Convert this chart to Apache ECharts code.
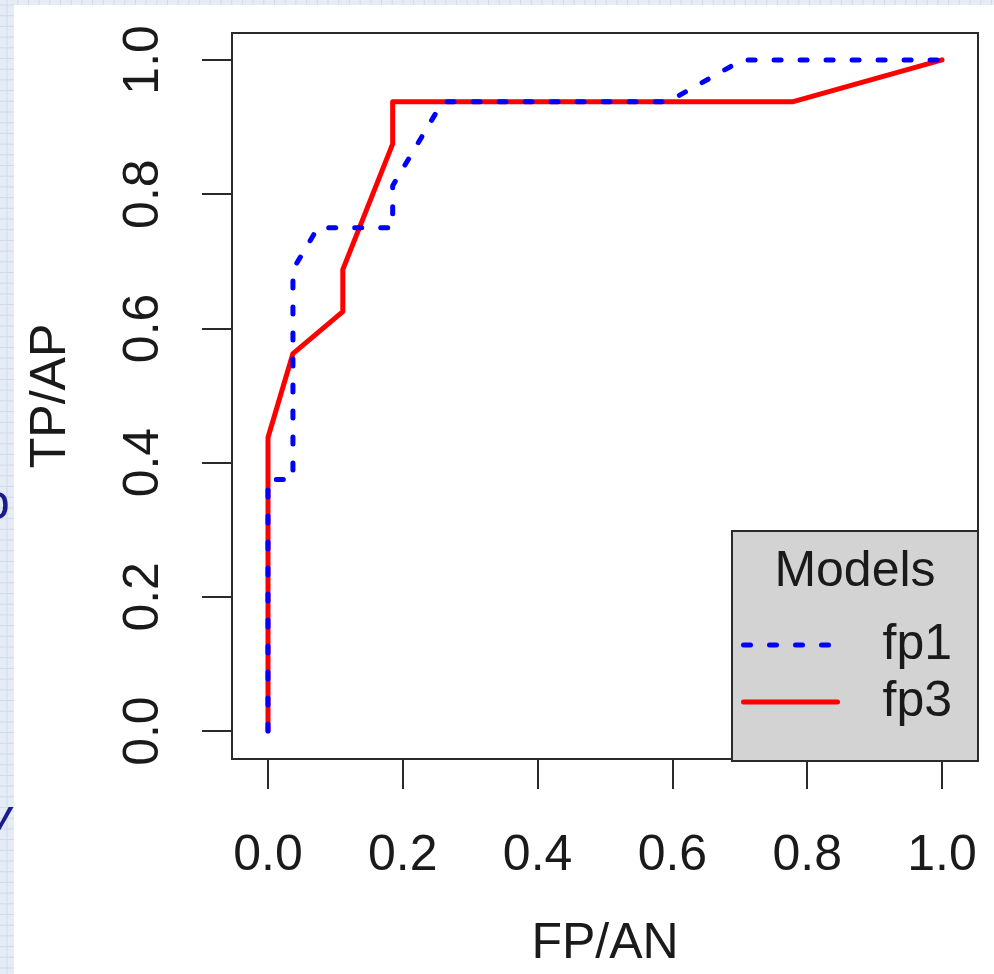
<!DOCTYPE html>
<html><head><meta charset="utf-8">
<script src="https://cdn.jsdelivr.net/npm/echarts@6/dist/echarts.min.js"></script>
<style>html,body{margin:0;padding:0;background:#fff}#c{width:994px;height:974px}</style>
</head><body><div id="c"></div>
<script>
// ---- data ----
const seriesNames = ['fp1', 'fp3'];
const fp1X = [0, 0, 0.037, 0.037, 0.074, 0.185, 0.185, 0.259, 0.593, 0.704, 1.0];
const fp1Y = [0, 0.375, 0.375, 0.6875, 0.75, 0.75, 0.8125, 0.9375, 0.9375, 1.0, 1.0];
const fp3X = [0, 0, 0.037, 0.111, 0.111, 0.185, 0.185, 0.778, 1.0];
const fp3Y = [0, 0.4375, 0.5625, 0.625, 0.6875, 0.875, 0.9375, 0.9375, 1.0];
const xTickValues = [0, 0.2, 0.4, 0.6, 0.8, 1.0];
const yTickValues = [0, 0.2, 0.4, 0.6, 0.8, 1.0];
const xTickLabels = ['0.0', '0.2', '0.4', '0.6', '0.8', '1.0'];
const yTickLabels = ['0.0', '0.2', '0.4', '0.6', '0.8', '1.0'];
const xName = 'FP/AN';
const yName = 'TP/AP';
const legendTitle = 'Models';

// ---- chart ----
const FONT = '"Liberation Sans", Arial, sans-serif';
const pairs = (xs, ys) => xs.map((x, i) => [x, ys[i]]);
const chart = echarts.init(document.getElementById('c'), null, {renderer: 'canvas'});

const BLUE_DASH = {color: '#0000ff', width: 5, type: [7, 19], cap: 'round'};
const RED_SOLID = {color: '#ff0000', width: 5, type: 'solid', cap: 'round', join: 'round'};

const deco = [];
const stripFill = '#e5ecf5', stripLine = '#d0daea';
deco.push({type: 'rect', shape: {x: 0, y: 0, width: 994, height: 5}, style: {fill: stripFill}, z: -10, silent: true});
deco.push({type: 'rect', shape: {x: 0, y: 0, width: 14, height: 974}, style: {fill: stripFill}, z: -10, silent: true});
for (let y = 5; y < 974; y += 10.7) deco.push({type: 'line', shape: {x1: 0, y1: y, x2: 14, y2: y}, style: {stroke: stripLine, lineWidth: 1}, z: -9, silent: true});
for (let x = 7; x < 994; x += 10.7) deco.push({type: 'line', shape: {x1: x, y1: 0, x2: x, y2: x < 14 ? 974 : 5}, style: {stroke: stripLine, lineWidth: 1}, z: -9, silent: true});
deco.push({type: 'text', x: -18, y: 530, style: {text: 'o', font: '50px ' + FONT, fill: '#1c1c8c', textVerticalAlign: 'bottom'}, z: -8, silent: true});
deco.push({type: 'text', x: -14, y: 845, style: {text: 'y', font: 'italic 50px ' + FONT, fill: '#1c1c8c', textVerticalAlign: 'bottom'}, z: -8, silent: true});
// legend box + title
deco.push({type: 'rect', shape: {x: 732, y: 531, width: 246, height: 230}, style: {fill: '#d3d3d3', stroke: '#2a2a2a', lineWidth: 2}, z: 3, silent: true});
deco.push({type: 'text', x: 855, y: 572, style: {text: legendTitle, font: '50px ' + FONT, fill: '#1a1a1a', textAlign: 'center', textVerticalAlign: 'middle'}, z: 5, silent: true});

const axisCommon = {
  type: 'value',
  axisLine: {show: false, onZero: false},
  splitLine: {show: false},
  nameLocation: 'middle',
  nameTextStyle: {fontSize: 50, fontFamily: FONT, color: '#1a1a1a'}
};
const tickStyle = {show: true, inside: false, length: 30, lineStyle: {color: '#2a2a2a', width: 2}};

chart.setOption({
  backgroundColor: '#ffffff',
  animation: false,
  graphic: {elements: deco},
  grid: {left: 232, top: 33, width: 746, height: 728, show: true, borderColor: '#2a2a2a', borderWidth: 2, backgroundColor: 'transparent', containLabel: false},
  xAxis: Object.assign({}, axisCommon, {
    min: -0.0534, max: 1.0534,
    name: xName, nameGap: 160,
    axisTick: Object.assign({}, tickStyle, {customValues: xTickValues}),
    axisLabel: {customValues: xTickValues, margin: 72, fontSize: 50, fontFamily: FONT, color: '#1a1a1a',
      formatter: v => xTickLabels[xTickValues.findIndex(t => Math.abs(t - v) < 1e-6)]}
  }),
  yAxis: Object.assign({}, axisCommon, {
    min: -0.0416, max: 1.0401,
    name: yName, nameGap: 156,
    axisTick: Object.assign({}, tickStyle, {customValues: yTickValues}),
    axisLabel: {customValues: yTickValues, rotate: 90, margin: 63, fontSize: 50, fontFamily: FONT, color: '#1a1a1a',
      formatter: v => yTickLabels[yTickValues.findIndex(t => Math.abs(t - v) < 1e-6)]}
  }),
  legend: {
    orient: 'vertical', left: 741, top: 620, padding: 0, itemGap: 7,
    itemWidth: 94, itemHeight: 14,
    backgroundColor: 'transparent', z: 5,
    itemStyle: {opacity: 0},
    data: [
      {name: seriesNames[0], lineStyle: Object.assign({}, BLUE_DASH)},
      {name: seriesNames[1], lineStyle: Object.assign({}, RED_SOLID)}
    ],
    textStyle: {fontSize: 50, lineHeight: 50, fontFamily: FONT, color: '#1a1a1a', padding: [0, 0, 0, 40]}
  },
  series: [
    {name: seriesNames[0], type: 'line', data: pairs(fp1X, fp1Y), symbol: 'none', z: 3,
     lineStyle: BLUE_DASH, itemStyle: {color: '#0000ff'}},
    {name: seriesNames[1], type: 'line', data: pairs(fp3X, fp3Y), symbol: 'none', z: 2,
     lineStyle: RED_SOLID, itemStyle: {color: '#ff0000'}}
  ]
});
</script>
</body></html>
